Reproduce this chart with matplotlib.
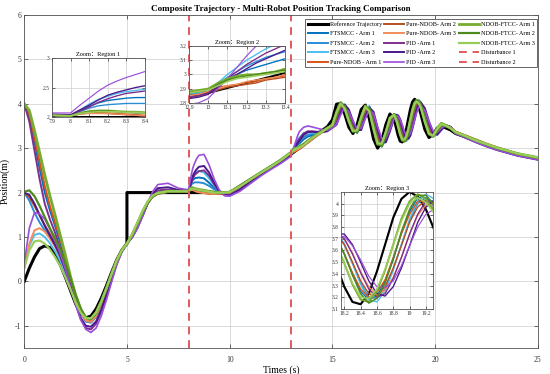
import matplotlib
matplotlib.use("Agg")
import matplotlib.pyplot as plt

plt.rcParams['font.family'] = ['Liberation Serif', 'Noto Sans CJK SC']
plt.rcParams['axes.unicode_minus'] = False

# time grid shared by the controller curves
t = [0, 0.25, 0.5, 0.75, 1, 1.25, 1.5, 1.75, 2, 2.25, 2.5, 2.75, 3, 3.25, 3.5, 3.75, 4, 4.25, 4.5, 4.75, 5,
     5.25, 5.5, 5.75, 6, 6.25, 6.5, 7, 7.5,
     7.9, 8, 8.05, 8.1, 8.15, 8.2, 8.25, 8.3, 8.35, 8.4,
     8.5, 8.75, 9, 9.25, 9.5, 9.75, 10,
     10.5, 11, 11.5, 12, 12.5, 12.9,
     12.95, 13, 13.05, 13.1, 13.15, 13.2, 13.25, 13.3, 13.35, 13.4,
     13.6, 13.8, 14, 14.25, 14.5, 14.75, 15,
     15.2, 15.4, 15.6, 15.8, 16, 16.2, 16.4, 16.6, 16.8, 17, 17.2, 17.4, 17.6, 17.8, 18,
     18.1, 18.2, 18.3, 18.4, 18.5, 18.6, 18.7, 18.8, 18.9, 19, 19.1, 19.2, 19.3,
     19.5, 19.7, 19.9, 20.1, 20.3, 20.5, 20.75,
     21, 21.5, 22, 22.5, 23, 24, 25]

ref_t = [0, 0.25, 0.5, 0.75, 1, 1.25, 1.5, 1.75, 2, 2.25, 2.5, 2.75, 3, 3.25, 3.5, 3.75, 4, 4.25, 4.5, 4.75, 5,
         5, 8, 10, 13, 13.4, 14, 14.5, 14.75, 15,
         15.2, 15.4, 15.6, 15.8, 16, 16.2, 16.4, 16.6, 16.8, 17, 17.2, 17.4, 17.6, 17.8, 18,
         18.1, 18.2, 18.3, 18.4, 18.5, 18.6, 18.7, 18.8, 18.9, 19, 19.1, 19.2, 19.3,
         19.5, 19.7, 19.9, 20.1, 20.3, 20.5, 20.75,
         21, 21.5, 22, 22.5, 23, 24, 25]
ref_y = [0, 0.3, 0.55, 0.74, 0.8, 0.76, 0.6, 0.38, 0.1, -0.2, -0.5, -0.72, -0.82, -0.78, -0.62, -0.38, -0.1, 0.2, 0.48, 0.7, 0.85,
         2.0, 2.0, 2.0, 2.87, 3.01, 3.22, 3.40, 3.48, 3.64,
         3.99, 4.01, 3.77, 3.47, 3.33, 3.52, 3.87, 3.97, 3.66, 3.21, 3.00, 3.17, 3.53, 3.77, 3.66,
         3.48, 3.29, 3.16, 3.14, 3.23, 3.42, 3.65, 3.88, 4.04, 4.10, 4.06, 3.95, 3.78,
         3.42, 3.24, 3.31, 3.45, 3.50, 3.46, 3.41,
         3.33, 3.25, 3.16, 3.07, 3.0, 2.86, 2.77]

ftsmcc_1 = [4.0, 3.7, 3.15, 2.55, 2.0, 1.6, 1.25, 0.88, 0.48, 0.05, -0.37, -0.7, -0.9, -0.92, -0.78, -0.52, -0.2, 0.14, 0.45, 0.69, 0.85,
            1.03, 1.26, 1.52, 1.76, 1.92, 2.0, 2.04, 2.03,
            2.03, 2.02, 2.1, 2.18, 2.24, 2.28, 2.3, 2.32, 2.33, 2.33,
            2.34, 2.32, 2.22, 2.1, 2.02, 1.99, 2.0,
            2.13, 2.28, 2.43, 2.57, 2.72, 2.86,
            2.87, 2.88, 2.93, 2.97, 3.0, 3.03, 3.05, 3.07, 3.09, 3.11,
            3.2, 3.26, 3.29, 3.32, 3.37, 3.44, 3.50,
            3.72, 3.99, 3.93, 3.68, 3.43, 3.37, 3.61, 3.90, 3.89, 3.55, 3.17, 3.07, 3.29, 3.61, 3.76,
            3.71, 3.57, 3.40, 3.25, 3.18, 3.21, 3.34, 3.52, 3.75, 3.93, 4.05, 4.05, 3.97,
            3.68, 3.38, 3.28, 3.37, 3.49, 3.50, 3.46,
            3.35, 3.25, 3.16, 3.07, 3.0, 2.86, 2.77]
ftsmcc_2 = [2.0, 1.82, 1.55, 1.33, 1.15, 0.98, 0.8, 0.58, 0.3, -0.03, -0.38, -0.7, -0.9, -0.93, -0.8, -0.54, -0.22, 0.12, 0.44, 0.69, 0.85,
            1.02, 1.25, 1.5, 1.75, 1.91, 2.0, 2.04, 2.03,
            2.03, 2.02, 2.09, 2.15, 2.19, 2.21, 2.22, 2.23, 2.23, 2.23,
            2.23, 2.21, 2.15, 2.07, 2.01, 1.99, 2.0,
            2.14, 2.28, 2.43, 2.57, 2.72, 2.86,
            2.87, 2.88, 2.93, 2.98, 3.02, 3.06, 3.09, 3.12, 3.14, 3.16,
            3.25, 3.3, 3.32, 3.34, 3.38, 3.43, 3.50,
            3.64, 3.95, 3.97, 3.75, 3.48, 3.36, 3.53, 3.84, 3.93, 3.65, 3.25, 3.06, 3.21, 3.54, 3.75,
            3.75, 3.65, 3.49, 3.32, 3.20, 3.19, 3.27, 3.44, 3.65, 3.85, 4.0, 4.05, 4.01,
            3.76, 3.44, 3.28, 3.34, 3.47, 3.51, 3.46,
            3.35, 3.25, 3.16, 3.07, 2.99, 2.86, 2.77]
ftsmcc_3 = [0.3, 0.8, 1.05, 1.08, 1.0, 0.86, 0.68, 0.46, 0.19, -0.12, -0.44, -0.72, -0.88, -0.9, -0.77, -0.51, -0.19, 0.14, 0.45, 0.69, 0.85,
            1.04, 1.27, 1.53, 1.78, 1.93, 2.01, 2.04, 2.03,
            2.03, 2.02, 2.12, 2.22, 2.3, 2.35, 2.4, 2.43, 2.45, 2.47,
            2.49, 2.45, 2.32, 2.16, 2.04, 1.99, 1.99,
            2.12, 2.28, 2.43, 2.58, 2.72, 2.87,
            2.87, 2.88, 2.94, 3.0, 3.05, 3.1, 3.14, 3.18, 3.21, 3.24,
            3.34, 3.36, 3.35, 3.35, 3.38, 3.43, 3.50,
            3.64, 3.97, 3.99, 3.76, 3.48, 3.34, 3.52, 3.86, 3.95, 3.66, 3.23, 3.03, 3.19, 3.53, 3.76,
            3.76, 3.66, 3.49, 3.31, 3.18, 3.16, 3.25, 3.43, 3.65, 3.87, 4.02, 4.08, 4.04,
            3.77, 3.43, 3.26, 3.32, 3.46, 3.50, 3.45,
            3.34, 3.25, 3.16, 3.07, 2.99, 2.86, 2.77]
ndob_1 = [4.0, 3.75, 3.25, 2.7, 2.15, 1.7, 1.33, 0.96, 0.55, 0.1, -0.33, -0.68, -0.88, -0.9, -0.76, -0.5, -0.18, 0.15, 0.46, 0.7, 0.86,
          1.04, 1.28, 1.54, 1.77, 1.91, 1.98, 2.02, 2.03,
          2.03, 2.02, 2.06, 2.08, 2.08, 2.07, 2.06, 2.05, 2.04, 2.03,
          2.02, 2.0, 1.98, 1.97, 1.97, 1.98, 2.0,
          2.14, 2.29, 2.43, 2.57, 2.71, 2.85,
          2.86, 2.88, 2.91, 2.92, 2.93, 2.94, 2.95, 2.97, 2.98, 2.99,
          3.06, 3.13, 3.2, 3.29, 3.37, 3.44, 3.50,
          3.71, 3.97, 3.91, 3.68, 3.44, 3.38, 3.61, 3.88, 3.87, 3.56, 3.19, 3.10, 3.30, 3.61, 3.75,
          3.70, 3.57, 3.41, 3.27, 3.20, 3.24, 3.35, 3.54, 3.74, 3.91, 4.02, 4.02, 3.95,
          3.68, 3.39, 3.29, 3.38, 3.50, 3.51, 3.46,
          3.37, 3.28, 3.19, 3.10, 3.02, 2.88, 2.78]
ndob_2 = [2.0, 1.9, 1.7, 1.48, 1.27, 1.07, 0.87, 0.64, 0.36, 0.02, -0.34, -0.66, -0.87, -0.9, -0.77, -0.51, -0.19, 0.14, 0.45, 0.69, 0.85,
          1.03, 1.27, 1.53, 1.76, 1.9, 1.97, 2.01, 2.03,
          2.03, 2.02, 2.05, 2.07, 2.07, 2.06, 2.05, 2.04, 2.03, 2.02,
          2.01, 1.99, 1.97, 1.97, 1.97, 1.98, 2.0,
          2.14, 2.28, 2.42, 2.56, 2.70, 2.84,
          2.85, 2.87, 2.89, 2.91, 2.92, 2.93, 2.94, 2.96, 2.97, 2.98,
          3.05, 3.12, 3.19, 3.28, 3.36, 3.43, 3.50,
          3.63, 3.93, 3.95, 3.74, 3.49, 3.37, 3.53, 3.83, 3.91, 3.65, 3.27, 3.09, 3.23, 3.54, 3.74,
          3.74, 3.65, 3.50, 3.34, 3.23, 3.21, 3.29, 3.45, 3.64, 3.84, 3.97, 4.03, 3.99,
          3.75, 3.45, 3.29, 3.36, 3.48, 3.52, 3.47,
          3.37, 3.28, 3.18, 3.09, 3.01, 2.87, 2.78]
ndob_3 = [0.3, 0.85, 1.15, 1.2, 1.12, 0.97, 0.78, 0.55, 0.26, -0.07, -0.41, -0.7, -0.88, -0.91, -0.78, -0.52, -0.2, 0.13, 0.45, 0.69, 0.85,
          1.05, 1.29, 1.55, 1.78, 1.92, 1.98, 2.02, 2.03,
          2.03, 2.02, 2.05, 2.06, 2.06, 2.06, 2.05, 2.04, 2.03, 2.02,
          2.01, 1.99, 1.98, 1.97, 1.98, 1.99, 2.0,
          2.14, 2.29, 2.43, 2.57, 2.71, 2.85,
          2.86, 2.88, 2.9, 2.92, 2.93, 2.95, 2.96, 2.97, 2.98, 3.0,
          3.06, 3.13, 3.2, 3.28, 3.36, 3.40, 3.48,
          3.57, 3.85, 3.95, 3.80, 3.54, 3.39, 3.47, 3.75, 3.90, 3.74, 3.38, 3.13, 3.20, 3.47, 3.70,
          3.74, 3.70, 3.58, 3.42, 3.29, 3.22, 3.26, 3.37, 3.54, 3.74, 3.90, 3.99, 3.99,
          3.82, 3.52, 3.33, 3.34, 3.46, 3.52, 3.47,
          3.37, 3.28, 3.19, 3.10, 3.02, 2.88, 2.78]
pid_1 = [4.0, 3.6, 2.95, 2.3, 1.75, 1.4, 1.1, 0.75, 0.35, -0.08, -0.5, -0.85, -1.05, -1.08, -0.95, -0.68, -0.33, 0.05, 0.4, 0.68, 0.86,
         1.0, 1.22, 1.48, 1.75, 1.95, 2.05, 2.07, 2.04,
         2.04, 2.03, 2.1, 2.17, 2.25, 2.31, 2.36, 2.4, 2.42, 2.44,
         2.48, 2.5, 2.38, 2.18, 2.02, 1.95, 1.95,
         2.08, 2.25, 2.41, 2.56, 2.70, 2.84,
         2.85, 2.87, 2.92, 2.97, 3.02, 3.07, 3.11, 3.15, 3.18, 3.21,
         3.33, 3.38, 3.38, 3.37, 3.37, 3.40, 3.48,
         3.57, 3.86, 3.97, 3.81, 3.54, 3.38, 3.46, 3.76, 3.92, 3.75, 3.36, 3.10, 3.18, 3.46, 3.71,
         3.75, 3.70, 3.57, 3.41, 3.27, 3.20, 3.23, 3.36, 3.54, 3.74, 3.91, 4.02, 4.02,
         3.83, 3.52, 3.31, 3.33, 3.45, 3.52, 3.48,
         3.34, 3.24, 3.14, 3.05, 2.97, 2.84, 2.75]
pid_2 = [2.0, 1.95, 1.75, 1.5, 1.25, 1.03, 0.82, 0.57, 0.25, -0.12, -0.5, -0.82, -1.0, -1.02, -0.9, -0.64, -0.3, 0.06, 0.4, 0.67, 0.85,
         0.99, 1.2, 1.46, 1.74, 1.97, 2.1, 2.12, 2.06,
         2.05, 2.04, 2.12, 2.2, 2.29, 2.37, 2.42, 2.46, 2.5, 2.53,
         2.58, 2.6, 2.45, 2.22, 2.03, 1.94, 1.93,
         2.06, 2.24, 2.4, 2.55, 2.69, 2.83,
         2.84, 2.86, 2.91, 2.96, 3.0, 3.04, 3.08, 3.11, 3.14, 3.17,
         3.3, 3.36, 3.37, 3.36, 3.36, 3.38, 3.46,
         3.53, 3.79, 3.98, 3.87, 3.61, 3.40, 3.41, 3.69, 3.91, 3.82, 3.46, 3.14, 3.13, 3.38, 3.67,
         3.74, 3.74, 3.65, 3.50, 3.34, 3.23, 3.21, 3.29, 3.45, 3.64, 3.84, 3.97, 4.03,
         3.90, 3.60, 3.35, 3.30, 3.41, 3.51, 3.48,
         3.33, 3.23, 3.13, 3.04, 2.96, 2.83, 2.74]
pid_3 = [0.4, 1.2, 1.55, 1.52, 1.4, 1.18, 0.93, 0.63, 0.28, -0.12, -0.52, -0.86, -1.08, -1.15, -1.05, -0.78, -0.42, -0.02, 0.36, 0.66, 0.85,
         0.98, 1.18, 1.45, 1.76, 2.02, 2.18, 2.21, 2.1,
         2.07, 2.07, 2.2, 2.32, 2.44, 2.54, 2.61, 2.67, 2.72, 2.77,
         2.84, 2.86, 2.62, 2.3, 2.05, 1.93, 1.92,
         2.03, 2.2, 2.37, 2.52, 2.66, 2.79,
         2.8, 2.83, 2.9, 2.97, 3.05, 3.13, 3.2, 3.27, 3.33, 3.38,
         3.47, 3.5, 3.48, 3.45, 3.42, 3.4, 3.46,
         3.54, 3.75, 3.92, 3.82, 3.61, 3.44, 3.45, 3.67, 3.86, 3.78, 3.48, 3.22, 3.22, 3.42, 3.66,
         3.72, 3.72, 3.64, 3.52, 3.38, 3.29, 3.28, 3.34, 3.47, 3.64, 3.80, 3.91, 3.95,
         3.85, 3.60, 3.39, 3.35, 3.45, 3.52, 3.48,
         3.33, 3.23, 3.13, 3.04, 2.96, 2.83, 2.74]
ftcc_1 = [4.0, 3.85, 3.4, 2.9, 2.4, 1.93, 1.5, 1.05, 0.6, 0.12, -0.3, -0.62, -0.82, -0.84, -0.7, -0.45, -0.15, 0.17, 0.47, 0.7, 0.85,
          1.05, 1.3, 1.56, 1.78, 1.92, 1.99, 2.03, 2.03,
          2.03, 2.02, 2.07, 2.1, 2.11, 2.11, 2.1, 2.09, 2.09, 2.08,
          2.07, 2.05, 2.03, 2.01, 2.0, 2.0, 2.01,
          2.15, 2.30, 2.45, 2.59, 2.74, 2.88,
          2.89, 2.90, 2.94, 2.97, 2.99, 3.0, 3.0, 3.01, 3.02, 3.04,
          3.09, 3.16, 3.23, 3.31, 3.38, 3.45, 3.52,
          3.81, 4.03, 3.90, 3.61, 3.38, 3.39, 3.70, 3.95, 3.85, 3.44, 3.09, 3.08, 3.35, 3.68, 3.76,
          3.66, 3.49, 3.31, 3.18, 3.16, 3.25, 3.43, 3.65, 3.87, 4.02, 4.08, 4.04, 3.93,
          3.60, 3.32, 3.27, 3.45, 3.56, 3.52, 3.45,
          3.36, 3.27, 3.18, 3.09, 3.01, 2.88, 2.79]
ftcc_2 = [2.02, 2.05, 1.92, 1.7, 1.45, 1.2, 0.97, 0.72, 0.42, 0.06, -0.3, -0.62, -0.82, -0.85, -0.72, -0.47, -0.17, 0.15, 0.46, 0.7, 0.85,
          1.04, 1.28, 1.54, 1.77, 1.91, 1.98, 2.02, 2.03,
          2.03, 2.02, 2.06, 2.09, 2.1, 2.1, 2.09, 2.08, 2.07, 2.07,
          2.06, 2.04, 2.02, 2.01, 2.0, 2.0, 2.01,
          2.15, 2.29, 2.44, 2.58, 2.73, 2.87,
          2.88, 2.89, 2.93, 2.96, 2.98, 2.99, 3.0, 3.01, 3.02, 3.03,
          3.08, 3.15, 3.22, 3.3, 3.37, 3.44, 3.50,
          3.72, 4.01, 3.95, 3.69, 3.42, 3.35, 3.61, 3.91, 3.90, 3.55, 3.14, 3.04, 3.27, 3.61, 3.77,
          3.71, 3.57, 3.39, 3.23, 3.15, 3.19, 3.32, 3.53, 3.76, 3.95, 4.07, 4.07, 3.99,
          3.69, 3.36, 3.26, 3.38, 3.52, 3.50, 3.44,
          3.35, 3.26, 3.17, 3.08, 3.0, 2.87, 2.78]
ftcc_3 = [0.3, 0.7, 0.9, 0.92, 0.85, 0.72, 0.55, 0.35, 0.1, -0.18, -0.47, -0.7, -0.83, -0.83, -0.7, -0.46, -0.16, 0.16, 0.47, 0.7, 0.85,
          1.06, 1.31, 1.57, 1.79, 1.93, 1.99, 2.03, 2.03,
          2.03, 2.02, 2.06, 2.08, 2.09, 2.09, 2.09, 2.08, 2.08, 2.07,
          2.06, 2.04, 2.02, 2.0, 2.0, 2.0, 2.01,
          2.14, 2.29, 2.44, 2.58, 2.73, 2.87,
          2.88, 2.89, 2.92, 2.95, 2.97, 2.98, 2.99, 3.0, 3.01, 3.02,
          3.07, 3.15, 3.22, 3.3, 3.37, 3.45, 3.52,
          3.80, 4.0, 3.89, 3.61, 3.39, 3.40, 3.69, 3.93, 3.83, 3.45, 3.11, 3.10, 3.37, 3.67, 3.75,
          3.65, 3.49, 3.32, 3.20, 3.19, 3.27, 3.44, 3.65, 3.85, 4.0, 4.05, 4.01, 3.92,
          3.60, 3.33, 3.28, 3.43, 3.54, 3.51, 3.45,
          3.36, 3.27, 3.17, 3.09, 3.01, 2.88, 2.79]

disturb_times = [8, 13]

series = [
    ("FTSMCC - Arm 1", ftsmcc_1, "#0072BD", 1.4),
    ("FTSMCC - Arm 2", ftsmcc_2, "#2B8CD6", 1.4),
    ("FTSMCC - Arm 3", ftsmcc_3, "#4DBEEE", 1.4),
    ("Pure-NDOB - Arm 1", ndob_1, "#D95319", 1.4),
    ("Pure-NDOB- Arm 2", ndob_2, "#B5501E", 1.4),
    ("Pure-NDOB- Arm 3", ndob_3, "#F28C5A", 1.4),
    ("PID -Arm 1", pid_1, "#7E2F8E", 1.4),
    ("PID -Arm 2", pid_2, "#4B1A8A", 1.4),
    ("PID -Arm 3", pid_3, "#9B4DDB", 1.2),
    ("NDOB-FTCC- Arm 1", ftcc_1, "#77AC30", 2.0),
    ("NDOB-FTCC- Arm 2", ftcc_2, "#4E8A1E", 1.6),
    ("NDOB-FTCC- Arm 3", ftcc_3, "#9ACD5A", 1.6),
]


def draw_lines(ax, scale=1.0):
    ax.plot(ref_t, ref_y, color="black", lw=2.2 * scale, label="Reference Trajectory")
    for name, y, c, lw in series:
        ax.plot(t, y, color=c, lw=lw * scale, label=name)


def style(ax, size):
    ax.grid(True, color="#D4D4D4", lw=0.6)
    ax.set_axisbelow(True)
    ax.tick_params(direction="in", top=True, right=True, labelsize=size,
                   length=2, width=0.5, pad=1.5, colors="#333333")
    for s in ax.spines.values():
        s.set_color("#555555")
        s.set_linewidth(0.6)


fig = plt.figure(figsize=(5.5, 3.74), dpi=100)
ax = fig.add_axes([0.044, 0.0695, 0.934, 0.8905])
draw_lines(ax)
for i, x in enumerate(disturb_times):
    ax.axvline(x, color="#E05A5A", lw=1.4, ls=(0, (4, 3)), label="Disturbance %d" % (i + 1))
ax.set_xlim(0, 25)
ax.set_ylim(-1.5, 6)
ax.set_xticks([0, 5, 10, 15, 20, 25])
ax.set_yticks([-1, 0, 1, 2, 3, 4, 5, 6])
style(ax, 5.5)
ax.tick_params(axis="x", length=3, pad=6)
ax.tick_params(axis="y", length=3, pad=2)
ax.set_xlabel("Times (s)", fontsize=7, labelpad=1)
ax.set_ylabel("Position(m)", fontsize=7, labelpad=4)
ax.set_title("Composite Trajectory - Multi-Robot Position Tracking Comparison",
             fontsize=6.5, fontweight="bold", pad=3)
leg = ax.legend(ncol=3, loc="upper right", bbox_to_anchor=(0.998, 0.988), borderaxespad=0,
                fontsize=4.4, handlelength=3.3, handletextpad=0.3, columnspacing=0.4,
                labelspacing=0.68, borderpad=0.4, fancybox=False, framealpha=1,
                edgecolor="#666666")
leg.get_frame().set_linewidth(0.7)

# zoom insets
insets = [
    ([0.0945, 0.687, 0.169, 0.158], (7.9, 8.4), (2, 3), "Zoom：Region 1",
     [7.9, 8, 8.1, 8.2, 8.3, 8.4], ["7.9", "8", "8.1", "8.2", "8.3", "8.4"],
     [2, 2.5, 3], ["2", "2.5", "3"]),
    ([0.3436, 0.725, 0.1745, 0.152], (12.9, 13.4), (2.8, 3.2), "Zoom：Region 2",
     [12.9, 13, 13.1, 13.2, 13.3, 13.4], ["12.9", "13", "13.1", "13.2", "13.3", "13.4"],
     [2.8, 2.9, 3, 3.1, 3.2], ["2.8", "2.9", "3", "3.1", "3.2"]),
    ([0.62, 0.174, 0.167, 0.313], (18.16, 19.285), (3.1, 4.1), "Zoom：Region 3",
     [18.2, 18.4, 18.6, 18.8, 19, 19.2], ["18.2", "18.4", "18.6", "18.8", "19", "19.2"],
     [3.1, 3.2, 3.3, 3.4, 3.5, 3.6, 3.7, 3.8, 3.9, 4.0],
     ["3.1", "3.2", "3.3", "3.4", "3.5", "3.6", "3.7", "3.8", "3.9", "4"]),
]
for rect, xl, yl, title, xt, xtl, yt, ytl in insets:
    ia = fig.add_axes(rect)
    draw_lines(ia, scale=0.7)
    ia.set_xlim(*xl)
    ia.set_ylim(*yl)
    ia.set_xticks(xt)
    ia.set_xticklabels(xtl)
    ia.set_yticks(yt)
    ia.set_yticklabels(ytl)
    style(ia, 4)
    ia.set_title(title, fontsize=4.5, pad=1.5)

fig.savefig("out.png", dpi=100)
